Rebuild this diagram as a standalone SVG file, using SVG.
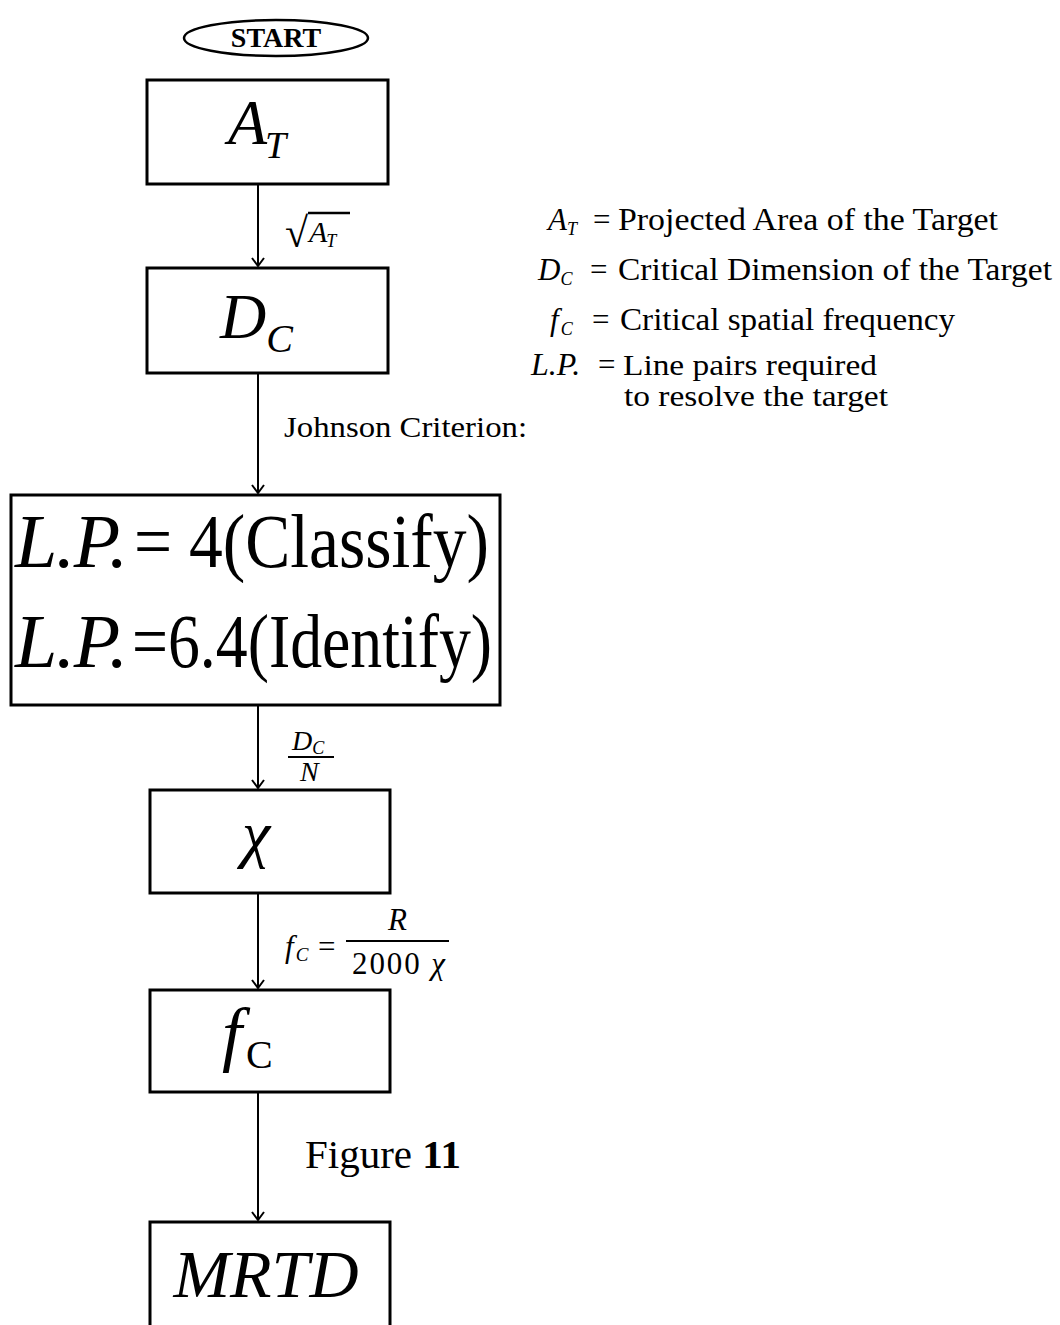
<svg xmlns="http://www.w3.org/2000/svg" width="1060" height="1325" viewBox="0 0 1060 1325">
<style>
.box{fill:#fff;stroke:#000;stroke-width:3}
.t{font-family:"Liberation Serif",serif;fill:#000}
.i{font-style:italic}
.conn line{stroke:#000;stroke-width:2}
</style>
<defs>
<marker id="arr" viewBox="0 0 10 14" refX="9" refY="7" markerWidth="10" markerHeight="14" markerUnits="userSpaceOnUse" orient="auto">
<path d="M1,1 L9,7 L1,13" fill="none" stroke="#000" stroke-width="2"/>
</marker>
</defs>
<rect width="1060" height="1325" fill="#fff"/>
<g class="conn">
<line x1="258" y1="185" x2="258" y2="266" marker-end="url(#arr)"/>
<line x1="258" y1="373" x2="258" y2="493" marker-end="url(#arr)"/>
<line x1="258" y1="705" x2="258" y2="788" marker-end="url(#arr)"/>
<line x1="258" y1="893" x2="258" y2="988" marker-end="url(#arr)"/>
<line x1="258" y1="1092" x2="258" y2="1220" marker-end="url(#arr)"/>
</g>
<g id="start">
<ellipse cx="276" cy="38" rx="92" ry="18" fill="#fff" stroke="#000" stroke-width="2.5"/>
<text class="t" x="276" y="47" font-size="28" font-weight="bold" text-anchor="middle">START</text>
</g>
<g id="at">
<rect class="box" x="147" y="80" width="241" height="104"/>
<text class="t i" x="228" y="144" font-size="64">A<tspan font-size="38" dx="-2" dy="14">T</tspan></text>
</g>
<g id="dc">
<rect class="box" x="147" y="268" width="241" height="105"/>
<text class="t i" x="220" y="338" font-size="64">D<tspan font-size="40" dy="14">C</tspan></text>
</g>
<g id="lp">
<rect class="box" x="11" y="495" width="489" height="210"/>
<text class="t i" x="15" y="567" font-size="76" textLength="113" lengthAdjust="spacing">L.P.</text>
<text class="t" x="134" y="567" font-size="76" textLength="355" lengthAdjust="spacingAndGlyphs">= 4(Classify)</text>
<text class="t i" x="15" y="667" font-size="76" textLength="113" lengthAdjust="spacing">L.P.</text>
<text class="t" x="132" y="667" font-size="76" textLength="360" lengthAdjust="spacingAndGlyphs">=6.4(Identify)</text>
</g>
<g id="chi">
<rect class="box" x="150" y="790" width="240" height="103"/>
<text class="t i" x="256" y="855" font-size="64" text-anchor="middle">χ</text>
</g>
<g id="fc">
<rect class="box" x="150" y="990" width="240" height="102"/>
<text class="t i" x="222" y="1058" font-size="72">f<tspan font-size="40" font-style="normal" dx="4" dy="10">C</tspan></text>
</g>
<g id="mrtd">
<rect class="box" x="150" y="1222" width="240" height="110"/>
<text class="t i" x="266" y="1297" font-size="68" text-anchor="middle">MRTD</text>
</g>
<g id="labels">
<text class="t" x="285" y="247" font-size="42">√</text>
<line x1="308" y1="213" x2="350" y2="213" stroke="#000" stroke-width="2.5"/>
<text class="t i" x="309" y="242" font-size="30">A<tspan font-size="18" dx="-1" dy="5">T</tspan></text>
<text class="t" x="284" y="437" font-size="30" textLength="243" lengthAdjust="spacingAndGlyphs">Johnson Criterion:</text>
<text class="t i" x="292" y="750" font-size="28">D<tspan font-size="18" dy="4">C</tspan></text>
<line x1="288" y1="757" x2="334" y2="757" stroke="#000" stroke-width="2"/>
<text class="t i" x="300" y="781" font-size="28">N</text>
<text class="t i" x="285" y="957" font-size="31">f<tspan font-size="19" dx="2" dy="4">C</tspan></text>
<text class="t" x="318" y="957" font-size="31">=</text>
<line x1="346" y1="941" x2="449" y2="941" stroke="#000" stroke-width="2"/>
<text class="t i" x="388" y="930" font-size="31">R</text>
<text class="t" x="352" y="974" font-size="31" textLength="93">2000 <tspan class="i">χ</tspan></text>
<text class="t" x="305" y="1168" font-size="41">Figure <tspan font-weight="bold">11</tspan></text>
</g>
<g id="legend" class="t" font-size="31">
<text class="i" x="548" y="230">A<tspan font-size="18" dy="5">T</tspan></text>
<text x="593" y="230">=</text>
<text x="618" y="230" textLength="380" lengthAdjust="spacingAndGlyphs">Projected Area of the Target</text>
<text class="i" x="538" y="280">D<tspan font-size="18" dy="5">C</tspan></text>
<text x="590" y="280">=</text>
<text x="618" y="280" textLength="434" lengthAdjust="spacingAndGlyphs">Critical Dimension of the Target</text>
<text class="i" x="550" y="330">f<tspan font-size="18" dx="2" dy="5">C</tspan></text>
<text x="592" y="330">=</text>
<text x="620" y="330" textLength="335" lengthAdjust="spacingAndGlyphs">Critical spatial frequency</text>
<text class="i" x="531" y="375" font-size="32">L.P.</text>
<text x="598" y="375" font-size="31">=</text>
<text x="623" y="375" font-size="30" textLength="254" lengthAdjust="spacingAndGlyphs">Line pairs required</text>
<text x="624" y="406" font-size="30" textLength="264" lengthAdjust="spacingAndGlyphs">to resolve the target</text>
</g>
</svg>
